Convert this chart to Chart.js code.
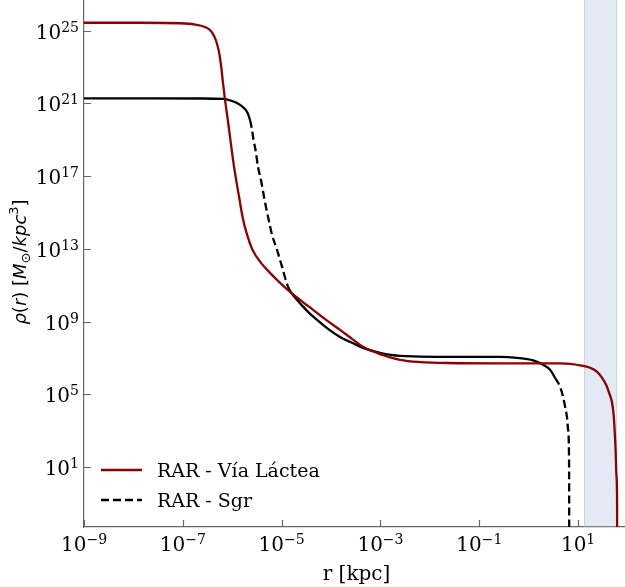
<!DOCTYPE html>
<html><head><meta charset="utf-8">
<script src="https://cdn.jsdelivr.net/npm/chart.js@4.4.1/dist/chart.umd.min.js"></script>
<style>html,body{margin:0;padding:0;background:#fff;}#wrap{width:625px;height:587px;position:relative;}</style>
</head><body><div id="wrap"><canvas id="c" width="625" height="587"></canvas></div>
<script>
// ---- data ----
const seriesLabels = ['RAR - Vía Láctea', 'RAR - Sgr'];
const mwRadius = [1.0e-9, 1.36e-8, 8.77e-8, 1.77e-7, 2.81e-7, 3.56e-7, 4.29e-7, 4.86e-7, 5.40e-7, 5.93e-7,
  6.51e-7, 7.15e-7, 8.04e-7, 8.81e-7, 1.09e-6, 1.41e-6, 1.62e-6, 1.95e-6,
  2.58e-6, 3.83e-6, 5.82e-6, 9.29e-6, 1.48e-5, 2.36e-5, 4.32e-5, 7.93e-5, 1.52e-4, 2.66e-4,
  4.45e-4, 9.82e-4, 2.49e-3, 6.34e-3, 2.32e-2, 0.264, 4.33, 6.89, 11.0, 17.5,
  24.3, 30.6, 36.9, 42.5, 48.8, 52.3, 54.8, 57.4, 59.6, 61.5, 61.9];
const mwDensity = [2.75e25, 2.75e25, 2.58e25, 2.19e25, 1.60e25, 1.09e25, 5.12e24, 2.11e24, 6.75e23, 1.30e23,
  1.33e22, 1.55e21, 1.59e20, 2.38e19, 3.21e17, 4.93e15, 5.73e14, 7.56e13,
  8.79e12, 1.69e12, 4.78e11, 1.35e11, 4.32e10, 1.57e10, 4.42e9, 1.24e9, 3.51e8, 1.12e8,
  4.08e7, 1.62e7, 7.89e6, 5.95e6, 5.25e6, 5.06e6, 5.06e6, 4.75e6, 3.93e6, 2.86e6,
  1.73e6, 8.07e5, 3.33e5, 1.21e5, 3.41e4, 7.46e3, 1.12e3, 88.9, 3.75, 0.158, 1e-4];
const sgrRadius = [1.0e-9, 2.17e-8, 2.23e-7, 6.51e-7, 9.90e-7, 1.25e-6, 1.58e-6, 2.00e-6, 2.29e-6, 2.52e-6,
  2.70e-6, 2.96e-6, 3.33e-6, 3.92e-6, 4.51e-6, 5.31e-6, 6.40e-6, 8.07e-6, 1.02e-5, 1.35e-5,
  2.05e-5, 3.27e-5, 5.21e-5, 8.69e-5, 1.52e-4, 2.66e-4, 4.45e-4, 9.82e-4, 2.49e-3, 5.66e-2,
  0.264, 0.582, 1.23, 1.95, 2.71, 3.42, 4.32, 4.97, 5.46, 5.98, 6.28, 6.57, 6.62];
const sgrDensity = [1.92e21, 1.92e21, 1.87e21, 1.76e21, 1.36e21, 1.06e21, 6.81e20, 3.39e20, 1.23e20, 3.48e19,
  9.79e18, 2.76e18, 3.21e17, 4.24e16, 4.93e15, 5.73e14, 5.87e13, 8.79e12, 1.02e12, 8.13e10,
  1.57e10, 3.89e9, 1.24e9, 3.99e8, 1.42e8, 6.78e7, 3.60e7, 1.91e7, 1.31e7, 1.15e7,
  1.15e7, 1.02e7, 7.40e6, 4.19e6, 2.22e6, 8.07e5, 2.58e5, 7.28e4, 2.05e4, 5.10e3, 1.12e3, 17.1, 1e-4];
const sgrDashedRanges = [[2.29e-6, 1.35e-5], [3.42, 1e3]];
const bandRange = [13.2, 61.5];
const xTickExponents = [-9, -7, -5, -3, -1, 1];
const yTickExponents = [1, 5, 9, 13, 17, 21, 25];
const xLimits = [1e-9, 89];
const yLimits = [5e-3, 4.9e26];
const xTitle = 'r [kpc]';

// ---- style ----
const RED = '#8b0000';
const AX = '#666666';
const SERIF = '"DejaVu Serif", "Liberation Serif", serif';
const SANS = '"DejaVu Sans", sans-serif';
const DASH = [8, 4];

function isDashed(x) {
  return sgrDashedRanges.some(r => x >= r[0] && x < r[1]);
}
function sup(e) { return String(e).replace('-', '\u2212'); }

function drawPow(ctx, exp, x, baseY, align) {
  ctx.font = '20px ' + SERIF;
  const wb = ctx.measureText('10').width;
  ctx.font = '14px ' + SERIF;
  const es = sup(exp);
  const we = ctx.measureText(es).width;
  const total = wb + we;
  let x0 = align === 'right' ? x - total : x - total / 2;
  ctx.textAlign = 'left';
  ctx.textBaseline = 'alphabetic';
  ctx.fillStyle = '#000';
  ctx.font = '20px ' + SERIF;
  ctx.fillText('10', x0, baseY);
  ctx.font = '14px ' + SERIF;
  ctx.fillText(es, x0 + wb, baseY - 7);
}

const decor = {
  id: 'decor',
  beforeDatasetsDraw(chart) {
    const { ctx, chartArea: a, scales: { x } } = chart;
    const x1 = x.getPixelForValue(bandRange[0]);
    const x2 = x.getPixelForValue(bandRange[1]);
    ctx.save();
    ctx.beginPath(); ctx.rect(a.left, a.top, a.right - a.left, a.bottom - a.top); ctx.clip();
    ctx.fillStyle = 'rgba(176,196,222,0.35)';
    ctx.fillRect(x1, a.top, x2 - x1, a.bottom - a.top);
    ctx.strokeStyle = 'rgba(176,196,222,0.6)';
    ctx.lineWidth = 1;
    ctx.beginPath();
    ctx.moveTo(x1 + 0.5, a.top); ctx.lineTo(x1 + 0.5, a.bottom);
    ctx.moveTo(x2 - 0.5, a.top); ctx.lineTo(x2 - 0.5, a.bottom);
    ctx.stroke();
    ctx.restore();
  },
  afterDraw(chart) {
    const { ctx, chartArea: a, scales: { x, y } } = chart;
    ctx.save();
    ctx.strokeStyle = AX; ctx.lineWidth = 1.2;
    ctx.beginPath();
    xTickExponents.forEach(e => {
      const px = Math.round(x.getPixelForValue(Math.pow(10, e))) + 0.5;
      ctx.moveTo(px, a.bottom); ctx.lineTo(px, a.bottom - 7);
    });
    yTickExponents.forEach(e => {
      const py = Math.round(y.getPixelForValue(Math.pow(10, e))) + 0.5;
      ctx.moveTo(a.left, py); ctx.lineTo(a.left + 7, py);
    });
    ctx.stroke();
    xTickExponents.forEach(e => drawPow(ctx, e, x.getPixelForValue(Math.pow(10, e)), a.bottom + 24, 'center'));
    yTickExponents.forEach(e => drawPow(ctx, e, a.left - 5, y.getPixelForValue(Math.pow(10, e)) + 8, 'right'));
    ctx.fillStyle = '#000';
    ctx.font = '20px ' + SERIF;
    ctx.textAlign = 'center'; ctx.textBaseline = 'alphabetic';
    ctx.fillText(xTitle, (a.left + a.right) / 2 + 2, 580);
    const pieces = [
      ['\u03c1', 'italic 18px ' + SANS, 0], ['(', '18px ' + SANS, 0], ['r', 'italic 18px ' + SANS, 0], [')', '18px ' + SANS, 0],
      [' [', '18px ' + SANS, 0], ['M', 'italic 18px ' + SANS, 0], ['\u2299', '13px ' + SANS, 4],
      ['/', '18px ' + SANS, 0], ['kpc', 'italic 18px ' + SANS, 0], ['3', '13px ' + SANS, -8], [']', '18px ' + SANS, 0]
    ];
    let tw = 0;
    pieces.forEach(p => { ctx.font = p[1]; tw += ctx.measureText(p[0]).width; });
    ctx.translate(26, 262);
    ctx.rotate(-Math.PI / 2);
    let cx = -tw / 2;
    ctx.textAlign = 'left';
    pieces.forEach(p => { ctx.font = p[1]; ctx.fillText(p[0], cx, p[2]); cx += ctx.measureText(p[0]).width; });
    ctx.restore();
    ctx.save();
    ctx.lineWidth = 2.5;
    ctx.strokeStyle = RED;
    ctx.beginPath(); ctx.moveTo(101, 470); ctx.lineTo(142, 470); ctx.stroke();
    ctx.strokeStyle = '#000'; ctx.setLineDash(DASH);
    ctx.beginPath(); ctx.moveTo(101, 500); ctx.lineTo(142, 500); ctx.stroke();
    ctx.setLineDash([]);
    ctx.fillStyle = '#000'; ctx.font = '19px ' + SERIF;
    ctx.textAlign = 'left'; ctx.textBaseline = 'alphabetic';
    ctx.fillText(seriesLabels[0], 157, 477);
    ctx.fillText(seriesLabels[1], 157, 507);
    ctx.restore();
  }
};

new Chart(document.getElementById('c'), {
  type: 'line',
  data: {
    datasets: [
      { label: seriesLabels[0], data: mwRadius.map((r, i) => ({ x: r, y: mwDensity[i] })),
        borderColor: RED, borderWidth: 2.3, pointRadius: 0, cubicInterpolationMode: 'monotone', fill: false },
      { label: seriesLabels[1], data: sgrRadius.map((r, i) => ({ x: r, y: sgrDensity[i] })),
        borderColor: '#000', borderWidth: 2.3, pointRadius: 0, cubicInterpolationMode: 'monotone', fill: false,
        segment: { borderDash: c => isDashed(c.p0.parsed.x) ? DASH : undefined } }
    ]
  },
  options: {
    responsive: false, animation: false, devicePixelRatio: 1,
    layout: { padding: { left: 84, right: 0, top: 0, bottom: 60 } },
    plugins: { legend: { display: false }, tooltip: { enabled: false } },
    scales: {
      x: { type: 'logarithmic', min: xLimits[0], max: xLimits[1],
        ticks: { display: false }, grid: { display: false, drawTicks: false },
        border: { display: true, color: AX, width: 1.2 } },
      y: { type: 'logarithmic', min: yLimits[0], max: yLimits[1],
        ticks: { display: false }, grid: { display: false, drawTicks: false },
        border: { display: true, color: AX, width: 1.2 } }
    }
  },
  plugins: [decor]
});
</script></body></html>
